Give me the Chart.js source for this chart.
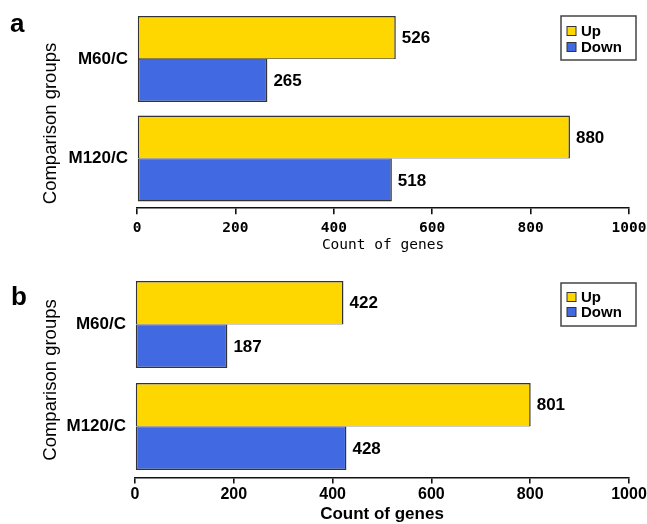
<!DOCTYPE html>
<html>
<head>
<meta charset="utf-8">
<script src="https://cdn.jsdelivr.net/npm/chart.js@4/dist/chart.umd.min.js"></script>
<style>
  html, body { margin: 0; padding: 0; background: #ffffff; }
  #wrap { position: relative; width: 647px; height: 524px; }
  .panel { position: absolute; left: 0; width: 647px; height: 262px; }
  canvas { display: block; }
</style>
</head>
<body>
<div id="wrap">
  <div class="panel" style="top:0"><canvas id="chartA" width="647" height="262"></canvas></div>
  <div class="panel" style="top:262px"><canvas id="chartB" width="647" height="262"></canvas></div>
</div>
<script>
// Differentially expressed gene counts per comparison
const groups = ['M60/C', 'M120/C'];
const seriesNames = ['Up', 'Down'];
const upA = [526, 880];
const downA = [265, 518];
const upB = [422, 801];
const downB = [187, 428];
const countTicks = [0, 200, 400, 600, 800, 1000];

const UP_COLOR = '#FFD700';
const DOWN_COLOR = '#4169E1';
const EDGE = '#333333';
const SANS = '"Liberation Sans", Arial, sans-serif';
const MONO = '"DejaVu Sans Mono", monospace';

// Panel letter, rotated y title, framed legend and bar value labels
const panelDecor = {
  id: 'panelDecor',
  afterDatasetsDraw(chart, args, o) {
    const ctx = chart.ctx;
    ctx.save();
    ctx.fillStyle = '#000';

    // value labels at the end of each bar
    ctx.font = 'bold 17px ' + SANS;
    ctx.textAlign = 'left';
    ctx.textBaseline = 'middle';
    chart.data.datasets.forEach((ds, i) => {
      chart.getDatasetMeta(i).data.forEach((el, j) => {
        ctx.fillText(String(ds.data[j]), el.x + 6, el.y + 1);
      });
    });

    // panel letter
    ctx.font = 'bold ' + o.letterSize + 'px ' + SANS;
    ctx.textBaseline = 'alphabetic';
    ctx.fillText(o.letter, o.letterX, o.letterY);

    // y axis title
    ctx.save();
    ctx.translate(o.yTitleX, o.yTitleY);
    ctx.rotate(-Math.PI / 2);
    ctx.font = o.yTitleSize + 'px ' + SANS;
    ctx.textAlign = 'center';
    ctx.textBaseline = 'middle';
    ctx.fillText(o.yTitle, 0, 0);
    ctx.restore();

    // legend
    const b = o.legendBox;
    ctx.strokeStyle = '#444';
    ctx.lineWidth = 1.5;
    ctx.strokeRect(b.x, b.y, b.w, b.h);
    ctx.font = 'bold 15px ' + SANS;
    ctx.textBaseline = 'middle';
    chart.data.datasets.forEach((ds, i) => {
      const cy = o.legendRows[i];
      ctx.fillStyle = ds.backgroundColor;
      ctx.fillRect(b.x + 6, cy - 4.5, 9, 9);
      ctx.strokeStyle = EDGE;
      ctx.lineWidth = 1;
      ctx.strokeRect(b.x + 6, cy - 4.5, 9, 9);
      ctx.fillStyle = '#000';
      ctx.fillText(ds.label, b.x + 20, cy + 1);
    });
    ctx.restore();
  }
};

function makePanel(id, up, down, g) {
  return new Chart(document.getElementById(id), {
    type: 'bar',
    data: {
      labels: groups,
      datasets: [
        {
          label: seriesNames[0], data: up, backgroundColor: UP_COLOR,
          borderWidth: { top: 1.5, left: 1.5, right: 1.5, bottom: 0.8 }
        },
        {
          label: seriesNames[1], data: down, backgroundColor: DOWN_COLOR,
          borderWidth: { top: 0.8, left: 1.5, right: 1.5, bottom: 1.5 }
        }
      ]
    },
    options: {
      indexAxis: 'y',
      responsive: false,
      animation: false,
      devicePixelRatio: 1,
      layout: { padding: { top: g.padTop, right: 18, left: 0, bottom: 0 } },
      datasets: {
        bar: {
          categoryPercentage: g.catPct,
          barPercentage: 1,
          borderColor: EDGE,
          borderSkipped: false
        }
      },
      plugins: {
        legend: { display: false },
        tooltip: { enabled: false },
        panelDecor: g.decor
      },
      scales: {
        x: {
          type: 'linear',
          min: 0,
          max: 1000,
          afterBuildTicks: s => { s.ticks = countTicks.map(v => ({ value: v })); },
          afterFit: s => { s.height = g.xHeight; s.paddingLeft = 0; s.paddingRight = 0; },
          border: { display: true, color: '#111', width: 1.6 },
          grid: { display: true, drawOnChartArea: false, drawTicks: true, tickLength: 6, color: '#111', lineWidth: 1.6 },
          ticks: { color: '#000', padding: g.tickPad, font: g.tickFont, maxRotation: 0, callback: v => String(v) },
          title: {
            display: true,
            text: 'Count of genes',
            color: '#000',
            font: g.titleFont,
            padding: { top: 0, bottom: g.titlePad }
          }
        },
        y: {
          afterFit: s => { s.width = g.yWidth; s.paddingTop = 0; s.paddingBottom = 0; },
          border: { display: false },
          grid: { display: false, drawTicks: false },
          ticks: { color: '#000', padding: 9, font: { family: SANS, size: 17, weight: 'bold' } }
        }
      }
    },
    plugins: [panelDecor]
  });
}

makePanel('chartA', upA, downA, {
  padTop: 9.25, xHeight: 53.75, yWidth: 137, catPct: 0.864, tickPad: 5, titlePad: 8.4,
  tickFont: { family: MONO, size: 14.5, weight: 'bold' },
  titleFont: { family: MONO, size: 14.5, weight: 'normal' },
  decor: {
    letter: 'a', letterSize: 26, letterX: 10, letterY: 32,
    yTitle: 'Comparison groups', yTitleX: 51, yTitleY: 123.5, yTitleSize: 18.5,
    legendBox: { x: 561, y: 16, w: 75, h: 44 }, legendRows: [31, 47]
  }
});

makePanel('chartB', upB, downB, {
  padTop: 11.5, xHeight: 46.5, yWidth: 135, catPct: 0.853, tickPad: 1, titlePad: 0,
  tickFont: { family: SANS, size: 16, weight: 'bold' },
  titleFont: { family: SANS, size: 17, weight: 'bold', lineHeight: 1.1 },
  decor: {
    letter: 'b', letterSize: 26, letterX: 11, letterY: 43,
    yTitle: 'Comparison groups', yTitleX: 51, yTitleY: 118, yTitleSize: 18.5,
    legendBox: { x: 561, y: 21, w: 75, h: 43 }, legendRows: [35, 50]
  }
});
</script>
</body>
</html>
